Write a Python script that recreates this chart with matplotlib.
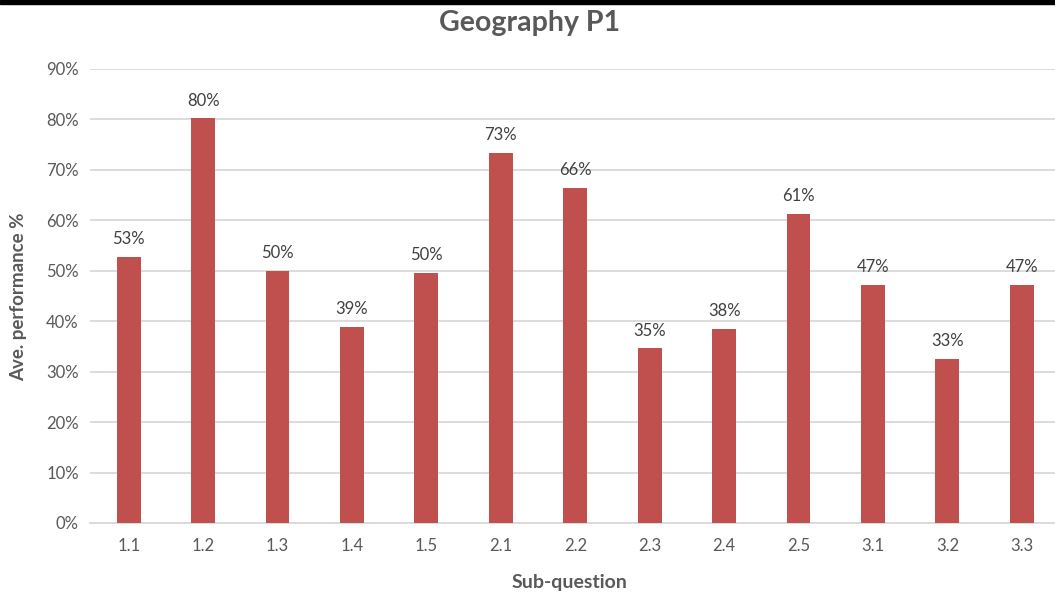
import matplotlib.pyplot as plt
from matplotlib.patches import Rectangle
from matplotlib.ticker import PercentFormatter

subq = ["1.1", "1.2", "1.3", "1.4", "1.5", "2.1", "2.2", "2.3", "2.4", "2.5", "3.1", "3.2", "3.3"]
perf = [52.8, 80.2, 50.0, 38.9, 49.6, 73.4, 66.4, 34.6, 38.5, 61.3, 47.2, 32.6, 47.2]

plt.rcParams['font.family'] = ['Lato', 'DejaVu Sans']

fig = plt.figure(figsize=(10.55, 5.97), dpi=100)
ax = fig.add_axes([0.0853, 0.124, 0.915, 0.7605])

x = range(len(subq))
bars = ax.bar(x, perf, width=0.32, color="#C0504D", zorder=3)

for rect, v in zip(bars, perf):
    ax.annotate(f"{round(v)}%", (rect.get_x() + rect.get_width() / 2, v),
                xytext=(0, 7), textcoords="offset points",
                ha="center", va="bottom", fontsize=12, color="#404040")

ax.set_xlim(-0.52, 12.45)
ax.set_ylim(0, 90)
ax.set_yticks(range(0, 91, 10))
ax.yaxis.set_major_formatter(PercentFormatter(decimals=0))
ax.set_xticks(list(x))
ax.set_xticklabels(subq)
ax.tick_params(length=0, labelsize=12, labelcolor="#595959", pad=8)
ax.tick_params(axis="x", pad=11)
ax.grid(axis="y", color="#D9D9D9", linewidth=1.3, zorder=0)
for side in ["top", "right", "left"]:
    ax.spines[side].set_visible(False)
ax.spines["bottom"].set_color("#D9D9D9")
ax.spines["bottom"].set_linewidth(1.3)

fig.text(0.502, 0.962, "Geography P1", ha="center", va="center",
         fontsize=20.5, fontweight="bold", color="#595959")
fig.text(0.54, 0.024, "Sub-question", ha="center", va="center",
         fontsize=14, fontweight="bold", color="#595959")
fig.text(0.018, 0.503, "Ave. performance %", ha="center", va="center",
         rotation=90, fontsize=13.5, fontweight="bold", color="#595959")

# dark strip along the top edge
fig.patches.append(Rectangle((0, 1 - 4 / 597), 1, 4 / 597, transform=fig.transFigure,
                             color="black", zorder=10))

fig.savefig("out.png", dpi=100)
